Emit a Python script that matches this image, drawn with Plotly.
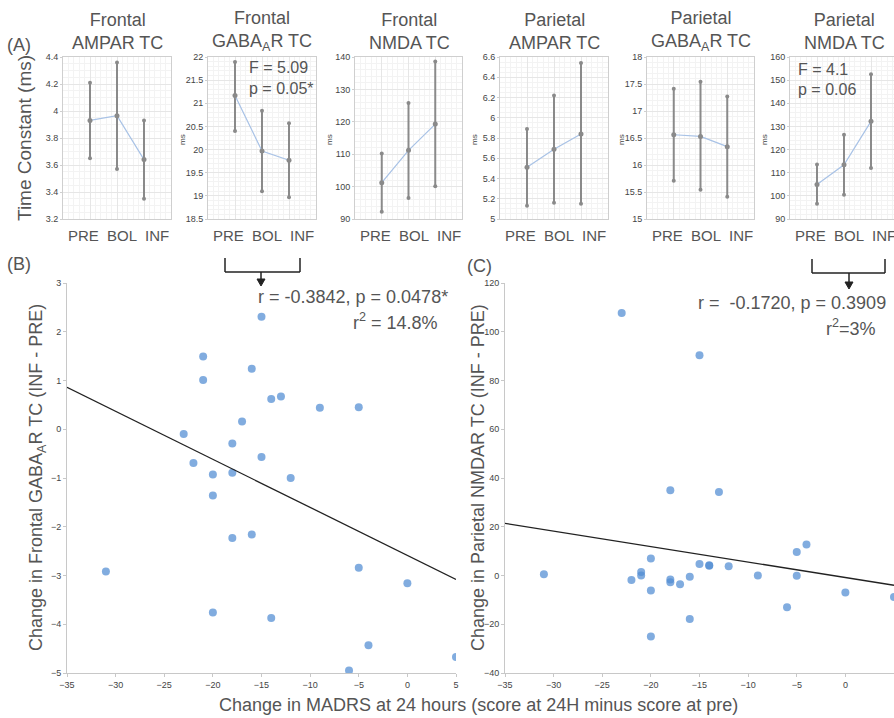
import plotly.graph_objects as go

OFF = 0
W, H = 894, 718
FONT = "Liberation Sans, Arial, sans-serif"
GRAY_TXT = "#555555"

# ---------------- data ----------------
categories = ["PRE", "BOL", "INF"]
cat_pos = [1, 2, 3]

panel_titles = ["Frontal<br>AMPAR TC", "Frontal<br>GABA<sub>A</sub>R TC", "Frontal<br>NMDA TC",
                "Parietal<br>AMPAR TC", "Parietal<br>GABA<sub>A</sub>R TC", "Parietal<br>NMDA TC"]

frontal_ampar_mean = [3.93, 3.965, 3.64]
frontal_ampar_upper = [4.21, 4.36, 3.93]
frontal_ampar_lower = [3.65, 3.57, 3.35]

frontal_gaba_mean = [21.17, 19.97, 19.77]
frontal_gaba_upper = [21.89, 20.84, 20.57]
frontal_gaba_lower = [20.4, 19.1, 18.97]

frontal_nmda_mean = [101.2, 111.2, 119.3]
frontal_nmda_upper = [110.2, 125.8, 138.6]
frontal_nmda_lower = [92.2, 96.5, 100.1]

parietal_ampar_mean = [5.51, 5.69, 5.84]
parietal_ampar_upper = [5.89, 6.22, 6.54]
parietal_ampar_lower = [5.13, 5.16, 5.15]

parietal_gaba_mean = [16.56, 16.53, 16.34]
parietal_gaba_upper = [17.41, 17.54, 17.27]
parietal_gaba_lower = [15.71, 15.54, 15.41]

parietal_nmda_mean = [104.9, 113.4, 132.2]
parietal_nmda_upper = [113.5, 126.4, 152.5]
parietal_nmda_lower = [96.6, 100.5, 112.0]

y_ranges = [[3.2, 4.4], [18.5, 22], [90, 140], [5, 6.6], [15, 18], [90, 160]]
y_dticks = [0.2, 0.5, 10, 0.2, 0.5, 10]

madrs_b = [-15, -21, -21, -16, -14, -13, -9, -5, -17, -23, -18, -22, -15, -20, -18, -12,
           -20, -18, -16, -31, -5, 0, -20, -14, -4, -6, 5]
frontal_gaba_change = [2.31, 1.49, 1.01, 1.24, 0.62, 0.67, 0.44, 0.45, 0.16, -0.10, -0.29, -0.69,
                       -0.57, -0.93, -0.89, -1.0, -1.36, -2.23, -2.16, -2.92, -2.84, -3.16, -3.76,
                       -3.87, -4.43, -4.95, -4.67]

madrs_c = [-23, -15, -18, -13, -31, -22, -21, -21, -20, -20, -20, -18, -18, -17, -16, -16, -15,
           -14, -14, -12, -9, -6, -5, -5, -4, 0, 5]
parietal_nmda_change = [107.7, 90.4, 35, 34.3, 0.5, -1.8, 1.4, 0, 7, -6.2, -25, -1.6, -2.8, -3.6,
                        -0.5, -17.8, 4.7, 4.0, 4.2, 3.8, 0, -13, 9.6, -0.1, 12.7, -7, -8.8]

fit_x = [-35, 5]
fit_b = [0.86, -3.08]
fit_c = [21.4, -4.0]

means = [frontal_ampar_mean, frontal_gaba_mean, frontal_nmda_mean,
         parietal_ampar_mean, parietal_gaba_mean, parietal_nmda_mean]
uppers = [frontal_ampar_upper, frontal_gaba_upper, frontal_nmda_upper,
          parietal_ampar_upper, parietal_gaba_upper, parietal_nmda_upper]
lowers = [frontal_ampar_lower, frontal_gaba_lower, frontal_nmda_lower,
          parietal_ampar_lower, parietal_gaba_lower, parietal_nmda_lower]


def fx(px):
    return (px - OFF) / W


def fy(py):
    return 1 - (py - OFF) / H


# ---------------- layout geometry (window pixels) ----------------
top_x = [(63, 171), (208, 316), (355, 462), (500, 608), (647, 754), (790, 894)]
top_y = (57, 219)
cat_label_offsets = [20, 59, 94]   # label centres relative to panel left edge

fig = go.Figure()
layout = dict(width=W, height=H, margin=dict(l=0, r=0, t=0, b=0),
              paper_bgcolor="white", plot_bgcolor="white", showlegend=False,
              hovermode=False,
              font=dict(family=FONT, color=GRAY_TXT))
annotations = []
shapes = []

for i in range(6):
    n = i + 1
    xa = "x" if n == 1 else f"x{n}"
    ya = "y" if n == 1 else f"y{n}"
    m, up, lo = means[i], uppers[i], lowers[i]
    err_p = [u - v for u, v in zip(up, m)]
    err_m = [v - l for v, l in zip(m, lo)]
    # error bars
    fig.add_trace(go.Scatter(x=cat_pos, y=m, mode="markers", xaxis=xa, yaxis=ya,
                             marker=dict(size=1, color="rgba(0,0,0,0)"),
                             error_y=dict(type="data", array=err_p, arrayminus=err_m,
                                          color="#8a8a8a", thickness=2, width=0),
                             hoverinfo="skip"))
    # end dots
    fig.add_trace(go.Scatter(x=cat_pos + cat_pos, y=up + lo, mode="markers", xaxis=xa, yaxis=ya,
                             marker=dict(size=4, color="#8a8a8a"), hoverinfo="skip"))
    # mean line
    fig.add_trace(go.Scatter(x=cat_pos, y=m, mode="lines", xaxis=xa, yaxis=ya,
                             line=dict(color="#a8c2e6", width=1.2)))
    fig.add_trace(go.Scatter(x=cat_pos, y=m, mode="markers", xaxis=xa, yaxis=ya,
                             marker=dict(size=5, color="#8a8a8a")))

    x0, x1 = top_x[i]
    xr = [0, 4] if i < 5 else [0, 4 * (x1 - x0) / 108.0]
    axkey_x = "xaxis" if n == 1 else f"xaxis{n}"
    axkey_y = "yaxis" if n == 1 else f"yaxis{n}"
    layout[axkey_x] = dict(domain=[fx(x0), fx(x1)], anchor=ya, range=xr,
                           tickvals=cat_pos, showticklabels=False,
                           showgrid=True, gridcolor="#e6e6e6", gridwidth=1,
                           minor=dict(showgrid=True, gridcolor="#f3f3f3", dtick=0.2),
                           showline=True, linecolor="#cfcfcf", mirror=True,
                           ticks="", zeroline=False, automargin=False, fixedrange=True)
    layout[axkey_y] = dict(domain=[fy(top_y[1]), fy(top_y[0])], anchor=xa, range=y_ranges[i],
                           dtick=y_dticks[i], tick0=y_ranges[i][0],
                           tickfont=dict(size=9, color="#444444", family=FONT),
                           showgrid=True, gridcolor="#e6e6e6",
                           minor=dict(showgrid=True, gridcolor="#f3f3f3", nticks=5),
                           showline=True, linecolor="#cfcfcf", mirror=True,
                           ticks="outside", ticklen=2, tickcolor="#cfcfcf",
                           zeroline=False, automargin=False, fixedrange=True)
    # category labels
    for lab, off in zip(categories, cat_label_offsets):
        annotations.append(dict(text=lab, x=fx(x0 + off), y=fy(236), xanchor="center",
                                yanchor="middle", font=dict(size=15, color=GRAY_TXT, family=FONT)))
    # panel title
    annotations.append(dict(text=panel_titles[i], x=fx(x0 + 54), y=fy(31),
                            xanchor="center", yanchor="middle",
                            font=dict(size=18, color=GRAY_TXT, family=FONT)))
    if i > 0:
        annotations.append(dict(text="ms", x=fx(x0 - 25), y=fy(140),
                                textangle=-90, xanchor="center", yanchor="middle",
                                font=dict(size=8, color="#444444", family=FONT)))

# ---------------- scatter panels ----------------
fig.add_trace(go.Scatter(x=madrs_b, y=frontal_gaba_change, mode="markers", xaxis="x7", yaxis="y7",
                         marker=dict(size=8, color="rgba(80,140,210,0.72)")))
fig.add_trace(go.Scatter(x=fit_x, y=fit_b, mode="lines", xaxis="x7", yaxis="y7",
                         line=dict(color="#222222", width=1.3)))
fig.add_trace(go.Scatter(x=madrs_c, y=parietal_nmda_change, mode="markers", xaxis="x8", yaxis="y8",
                         marker=dict(size=8, color="rgba(80,140,210,0.72)")))
fig.add_trace(go.Scatter(x=fit_x, y=fit_c, mode="lines", xaxis="x8", yaxis="y8",
                         line=dict(color="#222222", width=1.3)))

bot_y = (283, 673)
common_x = dict(dtick=5, tick0=-35, showgrid=False, zeroline=False, showline=True,
                linecolor="#c8c8c8", ticks="outside", ticklen=3, tickcolor="#c8c8c8",
                tickfont=dict(size=9, color="#444444", family=FONT), automargin=False, fixedrange=True)
common_y = dict(showgrid=False, zeroline=False, showline=True, linecolor="#c8c8c8",
                ticks="outside", ticklen=3, tickcolor="#c8c8c8",
                tickfont=dict(size=9, color="#444444", family=FONT), automargin=False, fixedrange=True)
layout["xaxis7"] = dict(domain=[fx(67), fx(456)], anchor="y7", range=[-35, 5], **common_x)
layout["yaxis7"] = dict(domain=[fy(bot_y[1]), fy(bot_y[0])], anchor="x7", range=[-5, 3], dtick=1, **common_y)
layout["xaxis8"] = dict(domain=[fx(505), fx(894)], anchor="y8", range=[-35, 5], **common_x)
layout["yaxis8"] = dict(domain=[fy(bot_y[1]), fy(bot_y[0])], anchor="x8", range=[-40, 120], dtick=20, **common_y)

big = dict(size=18, color=GRAY_TXT, family=FONT)
annotations += [
    dict(text="(A)", x=fx(5), y=fy(45), xanchor="left", yanchor="middle", font=big),
    dict(text="(B)", x=fx(5), y=fy(264), xanchor="left", yanchor="middle", font=big),
    dict(text="(C)", x=fx(465), y=fy(266), xanchor="left", yanchor="middle", font=big),
    dict(text="Time Constant (ms)", x=fx(24), y=fy(138), textangle=-90, xanchor="center",
         yanchor="middle", font=dict(size=19, color=GRAY_TXT, family=FONT)),
    dict(text="F = 5.09", x=fx(247), y=fy(67), xanchor="left", yanchor="middle",
         font=dict(size=16, color=GRAY_TXT, family=FONT)),
    dict(text="p = 0.05*", x=fx(247), y=fy(88), xanchor="left", yanchor="middle",
         font=dict(size=16, color=GRAY_TXT, family=FONT)),
    dict(text="F = 4.1", x=fx(796), y=fy(69), xanchor="left", yanchor="middle",
         font=dict(size=16, color=GRAY_TXT, family=FONT)),
    dict(text="p = 0.06", x=fx(796), y=fy(89), xanchor="left", yanchor="middle",
         font=dict(size=16, color=GRAY_TXT, family=FONT)),
    dict(text="Change in Frontal GABA<sub>A</sub>R TC (INF - PRE)", x=fx(37), y=fy(478),
         textangle=-90, xanchor="center", yanchor="middle", font=big),
    dict(text="Change in Parietal NMDAR TC (INF - PRE)", x=fx(478), y=fy(478),
         textangle=-90, xanchor="center", yanchor="middle", font=big),
    dict(text="Change in MADRS at 24 hours (score at 24H minus score at pre)", x=fx(478), y=fy(705),
         xanchor="center", yanchor="middle", font=big),
    dict(text="r = -0.3842, p = 0.0478*", x=fx(450), y=fy(297), xanchor="right", yanchor="middle", font=big),
    dict(text="r<sup>2</sup> = 14.8%", x=fx(440), y=fy(321), xanchor="right", yanchor="middle", font=big),
    dict(text="r =  -0.1720, p = 0.3909", x=fx(888), y=fy(303), xanchor="right", yanchor="middle", font=big),
    dict(text="r<sup>2</sup>=3%", x=fx(878), y=fy(327), xanchor="right", yanchor="middle", font=big),
]
for a in annotations:
    a.setdefault("xref", "paper")
    a.setdefault("yref", "paper")
    a.setdefault("showarrow", False)

LINE = dict(color="#222222", width=1.5)


def seg(xa_, ya_, xb_, yb_):
    return dict(type="line", xref="paper", yref="paper", x0=fx(xa_), y0=fy(ya_), x1=fx(xb_), y1=fy(yb_),
                line=LINE)


def bracket(xl, xr, ytop, ybot, xm, ytip):
    items = [seg(xl, ytop, xl, ybot), seg(xr, ytop, xr, ybot), seg(xl, ybot, xr, ybot),
             seg(xm, ybot, xm, ytip - 5)]
    path = (f"M {fx(xm - 4)} {fy(ytip - 7)} L {fx(xm + 4)} {fy(ytip - 7)} "
            f"L {fx(xm)} {fy(ytip)} Z")
    items.append(dict(type="path", xref="paper", yref="paper", path=path,
                      fillcolor="#222222", line=dict(color="#222222", width=1)))
    return items


shapes += bracket(225, 300, 258, 272, 261, 286)
shapes += bracket(812, 885, 259, 273, 849, 289)

layout["annotations"] = annotations
layout["shapes"] = shapes
fig.update_layout(**layout)
fig.write_html("out.html", config={"displayModeBar": False, "staticPlot": True},
               post_script="document.body.style.margin='0';document.body.style.overflow='hidden';")
